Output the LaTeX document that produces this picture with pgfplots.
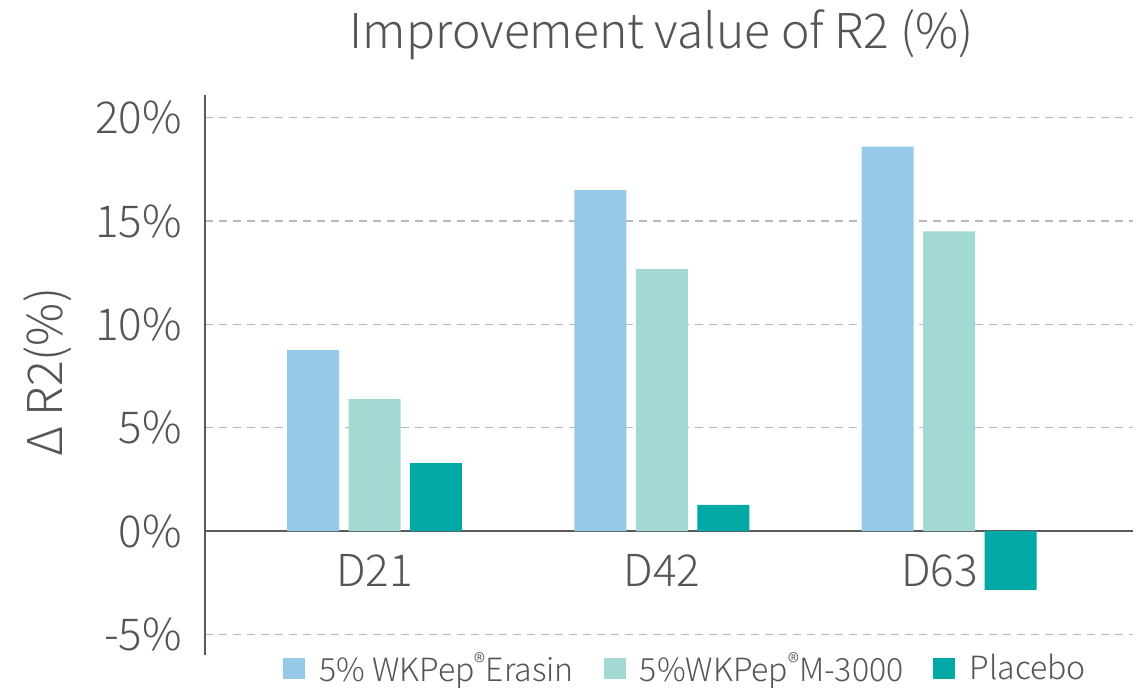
\documentclass[border=0pt]{standalone}
\usepackage{fontspec}
\setmainfont{Noto Sans CJK SC}[UprightFont=* Light]
\usepackage{pgfplots}
\pgfplotsset{compat=1.18}
\definecolor{erasin}{HTML}{94CAE8}
\definecolor{mthree}{HTML}{A3D9D3}
\definecolor{placebo}{HTML}{00A9A5}
\definecolor{txt}{HTML}{555555}
\definecolor{axisgray}{HTML}{5A5A5A}
\newcommand{\reg}{\raisebox{0.3em}{\fontsize{12}{12}\selectfont ®}}
\pgfplotsset{
  /pgfplots/ybar legend/.style={
    /pgfplots/legend image code/.code={\fill[##1] (0pt,-5.3pt) rectangle (11pt,5.3pt);}},
}
\begin{document}
\begin{tikzpicture}
\useasboundingbox (-102.5pt,-16pt) rectangle (468.5pt,327.5pt);
\begin{axis}[
  at={(0,0)}, anchor=south west,
  scale only axis,
  width=464pt, height=280pt,
  xmin=-0.59, xmax=2.64,
  ymin=-6, ymax=21.1,
  axis x line=middle,
  axis y line=left,
  axis line style={-, axisgray, line width=1.1pt},
  xtick={0,1,1.966},
  xticklabels={D21,D42,D63},
  ytick={-5,0,5,10,15,20},
  yticklabels={-5\%,0\%,5\%,10\%,15\%,20\%},
  major tick length=0pt,
  tick label style={font=\fontsize{22}{24}\selectfont, text=txt},
  xticklabel style={yshift=-8pt},
  yticklabel style={xshift=-8pt},
  ymajorgrids,
  grid style={dash pattern=on 4pt off 3pt, gray!55, line width=0.6pt},
  ylabel={Δ R2(\%)},
  ylabel style={font=\fontsize{24}{26}\selectfont, text=txt,
    at={(axis description cs:-0.169,0.505)}, anchor=center},
  title={Improvement value of R2 (\%)},
  title style={font=\fontsize{24}{26}\selectfont, text=txt, at={(0.492,1)}, anchor=south, yshift=8pt},
  legend style={draw=none, at={(0.519,-0.024)}, anchor=center, legend columns=3,
    font=\fontsize{16}{18}\selectfont, text=txt, fill=none,
    /tikz/every even column/.append style={column sep=13pt},
    /tikz/every odd column/.append style={column sep=5pt}},
  ybar, bar width=0.181,
  clip=false,
]
\addplot[fill=erasin, draw=none, bar shift=-0.214] coordinates {(0,8.75) (1,16.5) (2,18.6)};
\addlegendentry{5\% WKPep\reg Erasin}
\addplot[fill=mthree, draw=none, bar shift=0] coordinates {(0,6.38) (1,12.67) (2,14.5)};
\addlegendentry{5\%WKPep\reg M-3000}
\addplot[fill=placebo, draw=none, bar shift=0.214] coordinates {(0,3.29) (1,1.26) (2,-2.85)};
\addlegendentry{Placebo}
\end{axis}
\end{tikzpicture}
\end{document}
